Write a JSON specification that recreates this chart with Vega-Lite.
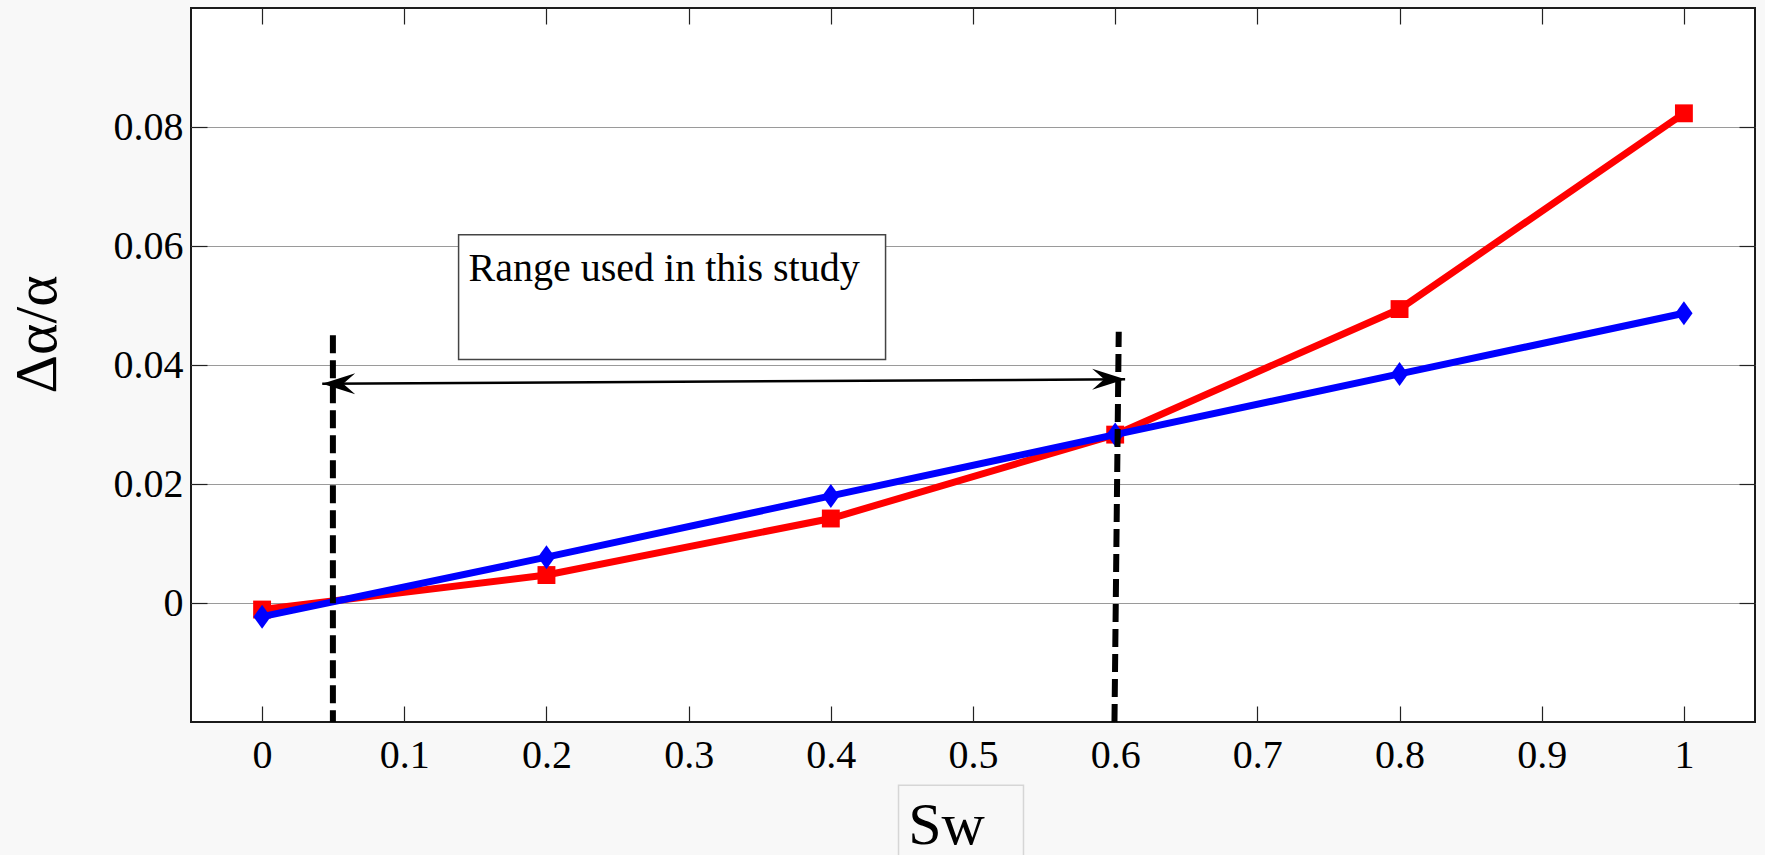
{
  "$schema": "https://vega.github.io/schema/vega-lite/v6.json",
  "autosize": {"type": "none"},
  "padding": {"left": 191, "top": 8, "right": 10, "bottom": 133},
  "width": 1564,
  "height": 714,
  "background": "#f8f8f8",
  "config": {
    "view": {"stroke": "#1a1a1a", "strokeWidth": 2, "fill": "white"},
    "font": "Liberation Serif"
  },
  "datasets": {
    "series": [
      {"sw": 0, "value": -0.0011, "series": "red"},
      {"sw": 0.2, "value": 0.0047, "series": "red"},
      {"sw": 0.4, "value": 0.0142, "series": "red"},
      {"sw": 0.6, "value": 0.0283, "series": "red"},
      {"sw": 0.8, "value": 0.0494, "series": "red"},
      {"sw": 1, "value": 0.0823, "series": "red"},
      {"sw": 0, "value": -0.0023, "series": "blue"},
      {"sw": 0.2, "value": 0.0077, "series": "blue"},
      {"sw": 0.4, "value": 0.018, "series": "blue"},
      {"sw": 0.6, "value": 0.0283, "series": "blue"},
      {"sw": 0.8, "value": 0.0385, "series": "blue"},
      {"sw": 1, "value": 0.0487, "series": "blue"}
    ],
    "dashes": [
      {"id": 1, "sw": 0.0498, "value": 0.045},
      {"id": 1, "sw": 0.0498, "value": -0.02},
      {"id": 2, "sw": 0.6025, "value": 0.0456},
      {"id": 2, "sw": 0.5995, "value": -0.02}
    ],
    "arrow": [
      {"x": 0.0423, "y": 0.03685, "x2": 0.607, "y2": 0.0376}
    ],
    "leftHead": [{"sw": 0.0423, "value": 0.03685}],
    "rightHead": [{"sw": 0.607, "value": 0.0376}],
    "box": [{"x": 0.1382, "x2": 0.4385, "y": 0.06188, "y2": 0.04094}],
    "label": [{"sw": 0.1452, "value": 0.05405, "text": "Range used in this study"}],
    "titleBox": [{"x": 0.4476, "x2": 0.5355, "y": -0.03065, "y2": -0.046}]
  },
  "resolve": {"axis": {"x": "independent", "y": "independent"}},
  "layer": [
    {
      "data": {"name": "series"},
      "transform": [{"filter": "datum.series === 'red'"}],
      "mark": {"type": "line", "color": "#ff0000", "strokeWidth": 7},
      "encoding": {
        "x": {
          "field": "sw", "type": "quantitative",
          "scale": {"domain": [-0.05, 1.05], "nice": false, "zero": false},
          "axis": {
            "orient": "bottom",
            "values": [0, 0.1, 0.2, 0.3, 0.4, 0.5, 0.6, 0.7, 0.8, 0.9, 1],
            "format": ".1~f",
            "grid": false, "domain": false,
            "tickSize": -16, "tickColor": "#222", "tickWidth": 1.2,
            "labelFont": "Liberation Serif", "labelFontSize": 40, "labelColor": "#000",
            "labelPadding": 29,
            "title": "Sw",
            "titleFont": "Liberation Serif", "titleFontSize": 60, "titleFontWeight": "normal", "titleColor": "#000",
            "titleX": 755, "titleY": 121, "titleAlign": "center", "titleBaseline": "alphabetic"
          }
        },
        "y": {
          "field": "value", "type": "quantitative",
          "scale": {"domain": [-0.02, 0.1], "nice": false, "zero": false},
          "axis": {
            "orient": "left",
            "values": [0, 0.02, 0.04, 0.06, 0.08],
            "format": ".2~f",
            "grid": true, "gridColor": "#9a9a9a", "gridWidth": 1,
            "domain": false,
            "tickSize": -16, "tickColor": "#222", "tickWidth": 1.2,
            "labelFont": "Liberation Serif", "labelFontSize": 40, "labelColor": "#000",
            "labelPadding": 24,
            "title": "Δα/α",
            "titleFont": "Liberation Serif", "titleFontSize": 60, "titleFontWeight": "normal", "titleColor": "#000",
            "titleAngle": -90,
            "titleX": -136, "titleY": 326, "titleAlign": "center", "titleBaseline": "alphabetic"
          }
        }
      }
    },
    {
      "data": {"name": "series"},
      "transform": [{"filter": "datum.series === 'red'"}],
      "mark": {"type": "point", "shape": "square", "filled": true, "color": "#ff0000", "size": 320, "opacity": 1},
      "encoding": {
        "x": {"field": "sw", "type": "quantitative", "axis": null},
        "y": {"field": "value", "type": "quantitative", "axis": null}
      }
    },
    {
      "data": {"name": "series"},
      "transform": [{"filter": "datum.series === 'blue'"}],
      "mark": {"type": "line", "color": "#0000ff", "strokeWidth": 7},
      "encoding": {
        "x": {
          "field": "sw", "type": "quantitative",
          "axis": {
            "orient": "top",
            "values": [0, 0.1, 0.2, 0.3, 0.4, 0.5, 0.6, 0.7, 0.8, 0.9, 1],
            "labels": false, "grid": false, "domain": false, "title": null,
            "tickSize": -16, "tickColor": "#222", "tickWidth": 1.2
          }
        },
        "y": {
          "field": "value", "type": "quantitative",
          "axis": {
            "orient": "right",
            "values": [0, 0.02, 0.04, 0.06, 0.08],
            "labels": false, "grid": false, "domain": false, "title": null,
            "tickSize": -16, "tickColor": "#222", "tickWidth": 1.2
          }
        }
      }
    },
    {
      "data": {"name": "series"},
      "transform": [{"filter": "datum.series === 'blue'"}],
      "mark": {"type": "point", "shape": "M0,-1L0.72,0L0,1L-0.72,0Z", "filled": true, "color": "#0000ff", "size": 576, "opacity": 1},
      "encoding": {
        "x": {"field": "sw", "type": "quantitative", "axis": null},
        "y": {"field": "value", "type": "quantitative", "axis": null}
      }
    },
    {
      "data": {"name": "dashes"},
      "mark": {"type": "line", "color": "#000", "strokeWidth": 6, "strokeDash": [18, 7], "strokeCap": "butt"},
      "encoding": {
        "x": {"field": "sw", "type": "quantitative", "axis": null},
        "y": {"field": "value", "type": "quantitative", "axis": null},
        "detail": {"field": "id", "type": "nominal"}
      }
    },
    {
      "data": {"name": "arrow"},
      "mark": {"type": "rule", "color": "#000", "strokeWidth": 2.5},
      "encoding": {
        "x": {"field": "x", "type": "quantitative", "axis": null},
        "x2": {"field": "x2"},
        "y": {"field": "y", "type": "quantitative", "axis": null},
        "y2": {"field": "y2"}
      }
    },
    {
      "data": {"name": "leftHead"},
      "mark": {"type": "point", "shape": "M0,0L-2,-0.64L-1.27,0L-2,0.64Z", "filled": true, "color": "#000", "size": 1089, "angle": 180, "opacity": 1},
      "encoding": {
        "x": {"field": "sw", "type": "quantitative", "axis": null},
        "y": {"field": "value", "type": "quantitative", "axis": null}
      }
    },
    {
      "data": {"name": "rightHead"},
      "mark": {"type": "point", "shape": "M0,0L-2,-0.64L-1.27,0L-2,0.64Z", "filled": true, "color": "#000", "size": 1089, "angle": 0, "opacity": 1},
      "encoding": {
        "x": {"field": "sw", "type": "quantitative", "axis": null},
        "y": {"field": "value", "type": "quantitative", "axis": null}
      }
    },
    {
      "data": {"name": "box"},
      "mark": {"type": "rect", "fill": "white", "stroke": "#444", "strokeWidth": 1.5},
      "encoding": {
        "x": {"field": "x", "type": "quantitative", "axis": null},
        "x2": {"field": "x2"},
        "y": {"field": "y", "type": "quantitative", "axis": null},
        "y2": {"field": "y2"}
      }
    },
    {
      "data": {"name": "label"},
      "mark": {"type": "text", "align": "left", "baseline": "alphabetic", "font": "Liberation Serif", "fontSize": 40, "color": "#000"},
      "encoding": {
        "x": {"field": "sw", "type": "quantitative", "axis": null},
        "y": {"field": "value", "type": "quantitative", "axis": null},
        "text": {"field": "text"}
      }
    },
    {
      "data": {"name": "titleBox"},
      "mark": {"type": "rect", "fill": null, "fillOpacity": 0, "stroke": "#d6d6d6", "strokeWidth": 1.5},
      "encoding": {
        "x": {"field": "x", "type": "quantitative", "axis": null},
        "x2": {"field": "x2"},
        "y": {"field": "y", "type": "quantitative", "axis": null},
        "y2": {"field": "y2"}
      }
    }
  ]
}
